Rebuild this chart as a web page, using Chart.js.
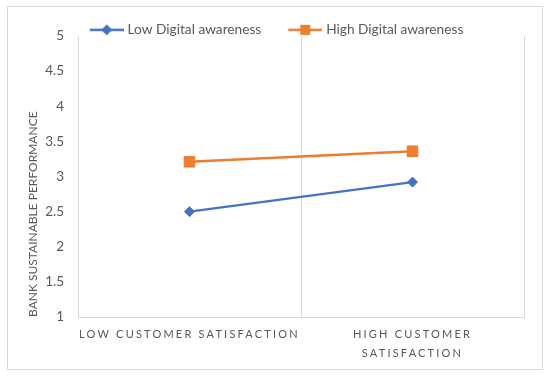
<!DOCTYPE html>
<html>
<head>
<meta charset="utf-8">
<script src="https://cdn.jsdelivr.net/npm/chart.js@4.4.1/dist/chart.umd.min.js"></script>
<style>
  html, body { margin: 0; padding: 0; background: #fff; }
  #wrap { position: relative; width: 550px; height: 379px; }
</style>
</head>
<body>
<div id="wrap"><canvas id="chart"></canvas></div>
<script>
// chart data
var categories = ['LOW CUSTOMER SATISFACTION', ['HIGH CUSTOMER', 'SATISFACTION']];
var lowDigital = [2.5, 2.92];
var highDigital = [3.21, 3.36];
var seriesNames = ['Low Digital awareness', 'High Digital awareness'];
var yMin = 1, yMax = 5, yStep = 0.5;
var yTitle = 'BANK SUSTAINABLE PERFORMANCE';

var BLUE = '#4472C4';
var ORANGE = '#ED7D31';
var GREY = '#595959';
var LINE = '#d9d9d9';

// legend symbol: short line with the marker on it (6px blank on the left)
function legendMarker(color, shape) {
    var c = document.createElement('canvas');
    c.width = 40; c.height = 14;
    var ctx = c.getContext('2d');
    ctx.strokeStyle = color;
    ctx.fillStyle = color;
    ctx.lineWidth = 2.5;
    ctx.beginPath();
    ctx.moveTo(6, 7); ctx.lineTo(40, 7);
    ctx.stroke();
    ctx.beginPath();
    if (shape === 'diamond') {
        ctx.moveTo(23, 1.5); ctx.lineTo(28.5, 7); ctx.lineTo(23, 12.5); ctx.lineTo(17.5, 7);
    } else {
        ctx.rect(18, 2, 10, 10);
    }
    ctx.closePath();
    ctx.fill();
    return c;
}
var legendImages = [legendMarker(BLUE, 'diamond'), legendMarker(ORANGE, 'square')];

// white background + light frame round the whole chart
var framePlugin = {
    id: 'frame',
    beforeDraw: function (chart) {
        var ctx = chart.ctx;
        ctx.save();
        ctx.fillStyle = '#fff';
        ctx.fillRect(0, 0, chart.width, chart.height);
        ctx.strokeStyle = LINE;
        ctx.lineWidth = 1;
        ctx.strokeRect(7.5, 6.5, 535, 363);
        ctx.restore();
    },
    // legend box is kept short so the plot starts high; let its text draw past it
    afterLayout: function (chart) {
        if (chart.legend) {
            chart.legend.bottom = chart.legend.top + 50;
            chart.legend.height = 50;
        }
    }
};

// spaced capitals on the category axis
var spacingPlugin = {
    id: 'xLetterSpacing',
    afterUpdate: function (chart) {
        var sc = chart.scales.x;
        if (!sc || sc._spaced) return;
        var orig = sc.drawLabels;
        sc.drawLabels = function (area) {
            var ctx = this.ctx;
            ctx.save();
            ctx.letterSpacing = '2.2px';
            orig.call(this, area);
            ctx.restore();
        };
        sc._spaced = true;
    }
};

var ctx = document.getElementById('chart').getContext('2d');
var chart = new Chart(ctx, {
    type: 'line',
    data: {
        labels: categories,
        datasets: [
            {
                label: seriesNames[0],
                data: lowDigital,
                borderColor: BLUE,
                backgroundColor: BLUE,
                borderWidth: 2.5,
                pointStyle: 'rectRot',
                pointRadius: 5,
                pointHoverRadius: 5,
                pointBorderWidth: 1
            },
            {
                label: seriesNames[1],
                data: highDigital,
                borderColor: ORANGE,
                backgroundColor: ORANGE,
                borderWidth: 2.5,
                pointStyle: 'rect',
                pointRadius: 7.5,
                pointHoverRadius: 7.5,
                pointBorderWidth: 1
            }
        ]
    },
    options: {
        responsive: true,
        maintainAspectRatio: false,
        animation: false,
        layout: { padding: { left: 26, right: 26, top: -1, bottom: 0 } },
        plugins: {
            tooltip: { enabled: false },
            legend: {
                position: 'top',
                maxHeight: 37,
                labels: {
                    usePointStyle: true,
                    pointStyleWidth: 34,
                    boxHeight: 14,
                    padding: 24,
                    color: GREY,
                    font: { family: 'Lato', size: 13.7 },
                    generateLabels: function (chart) {
                        var items = Chart.defaults.plugins.legend.labels.generateLabels(chart);
                        items.forEach(function (it, i) { it.pointStyle = legendImages[i]; });
                        return items;
                    }
                }
            }
        },
        scales: {
            x: {
                offset: true,
                grid: { display: true, offset: true, color: LINE, lineWidth: 1, drawTicks: false },
                border: { display: true, color: LINE },
                ticks: {
                    color: GREY,
                    font: { family: 'Lato', size: 11, lineHeight: 1.7 },
                    padding: 8,
                    maxRotation: 0,
                    autoSkip: false
                },
                afterFit: function (scale) { scale.height = 62; }
            },
            y: {
                min: yMin,
                max: yMax,
                grid: { display: false, drawTicks: false },
                border: { display: false },
                ticks: {
                    stepSize: yStep,
                    color: GREY,
                    font: { family: 'Lato', size: 13.5 },
                    padding: 14,
                    callback: function (v) { return String(v); }
                },
                title: {
                    display: true,
                    text: yTitle,
                    align: 'start',
                    color: GREY,
                    font: { family: 'Lato', size: 12 },
                    padding: 0
                },
                afterFit: function (scale) { scale.width = 52; }
            }
        }
    },
    plugins: [framePlugin, spacingPlugin]
});
</script>
</body>
</html>
